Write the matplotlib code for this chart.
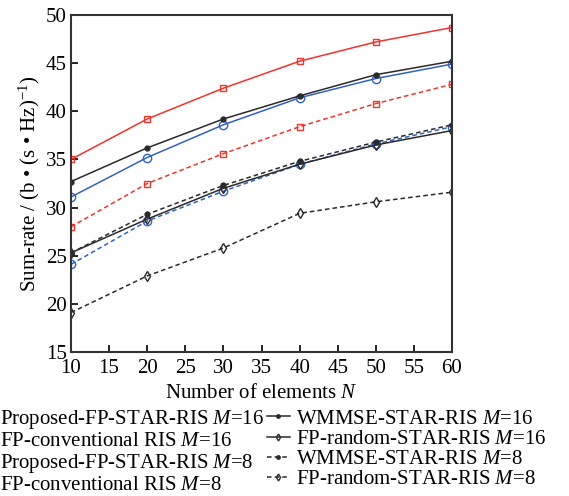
import matplotlib
matplotlib.use('Agg')
import matplotlib.pyplot as plt

plt.rcParams['font.family'] = ['Liberation Serif', 'DejaVu Serif']
plt.rcParams['mathtext.fontset'] = 'custom'
plt.rcParams['mathtext.rm'] = 'Liberation Serif'
plt.rcParams['mathtext.it'] = 'Liberation Serif:italic'

# 데이터
N = [10, 20, 30, 40, 50, 60]
prop_16 = [35.0, 39.2, 42.4, 45.2, 47.2, 48.7]
wmmse_16 = [32.7, 36.2, 39.2, 41.6, 43.8, 45.2]
conv_16 = [31.1, 35.2, 38.6, 41.4, 43.4, 44.9]
rand_16 = [25.3, 28.8, 32.0, 34.5, 36.5, 38.0]
prop_8 = [28.0, 32.5, 35.6, 38.4, 40.8, 42.8]
wmmse_8 = [25.3, 29.3, 32.3, 34.8, 36.8, 38.6]
conv_8 = [24.1, 28.6, 31.7, 34.5, 36.6, 38.4]
rand_8 = [19.1, 22.9, 25.8, 29.4, 30.6, 31.6]

red = '#f0342c'
blue = '#2f63c0'
blk = '#2a2a2a'
dash = (0, (3, 2))

fig = plt.figure(figsize=(5.69, 4.96), dpi=100)
ax = fig.add_axes([71/569, 1-352/496, (452-71)/569, (352-15)/496])

l1, = ax.plot(N, prop_16, color=red, lw=1.1, marker='s', ms=5, mfc='none', mew=1)
l2, = ax.plot(N, conv_16, color=blue, lw=1.1, marker='o', ms=6, mfc='none', mew=1)
l3, = ax.plot(N, prop_8, color=red, lw=1.1, ls=dash, marker='s', ms=5, mfc='none', mew=1)
l4, = ax.plot(N, conv_8, color=blue, lw=1.1, ls=dash, marker='o', ms=6, mfc='none', mew=1)
l5, = ax.plot(N, wmmse_16, color=blk, lw=1.1, marker='.', ms=7)
l6, = ax.plot(N, rand_16, color=blk, lw=1.1, marker='d', ms=5, mfc='none', mew=1)
l7, = ax.plot(N, wmmse_8, color=blk, lw=1.1, ls=dash, marker='.', ms=7)
l8, = ax.plot(N, rand_8, color=blk, lw=1.1, ls=dash, marker='d', ms=5, mfc='none', mew=1)

ax.set_xlim(10, 60)
ax.set_ylim(15, 50)
ax.set_xticks(range(10, 61, 5))
ax.set_yticks(range(15, 51, 5))
ax.tick_params(direction='in', length=5, width=1.2, labelsize=15, pad=3,
               top=False, right=False)
ax.tick_params(axis='x', pad=5)
for s in ax.spines.values():
    s.set_linewidth(1.5)
    s.set_color('#333333')

ax.set_xlabel('Number of elements $N$', fontsize=15, labelpad=4)
ax.set_ylabel('Sum-rate / (b \u2022 (s \u2022 Hz)$^{-1}$)', fontsize=15, labelpad=3)

labels = ['Proposed-FP-STAR-RIS $M$=16', 'FP-conventional RIS $M$=16',
          'Proposed-FP-STAR-RIS $M$=8', 'FP-conventional RIS $M$=8',
          'WMMSE-STAR-RIS $M$=16', 'FP-random-STAR-RIS $M$=16',
          'WMMSE-STAR-RIS $M$=8', 'FP-random-STAR-RIS $M$=8']
fig.legend([l1, l2, l3, l4, l5, l6, l7, l8], labels, ncol=2,
           loc='upper left', bbox_to_anchor=(-0.052, 0.178),
           frameon=False, fontsize=15, handlelength=1.1, handletextpad=0.3,
           columnspacing=0.15, labelspacing=0.03, borderpad=0, borderaxespad=0,
           markerscale=0.7)

fig.savefig('out.png', dpi=100)
